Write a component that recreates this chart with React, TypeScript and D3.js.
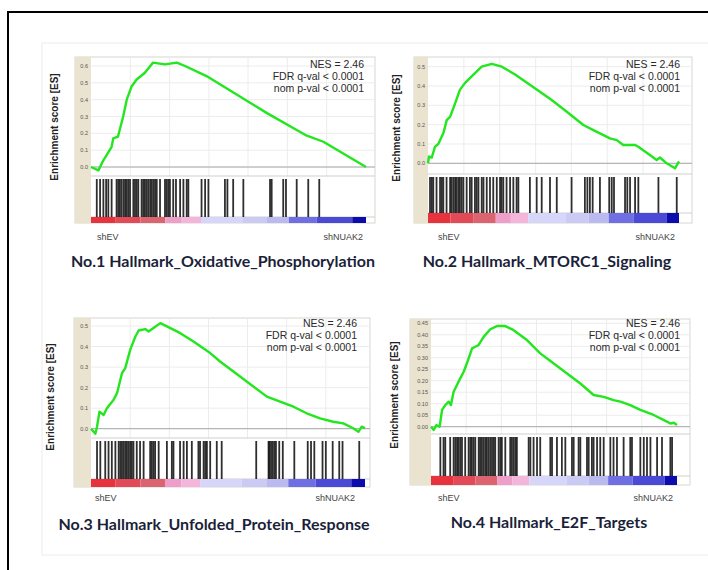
import React from 'react'
import * as d3 from 'd3'

// shared bits
const rankGrid = [14.3, 28.6, 42.9, 57.1, 71.4, 85.7]
const barStops = [0, 9, 18, 27, 33, 40, 55, 64, 72, 82, 95, 100]
const barColors = ['#e8333f', '#e24a57', '#dc6470', '#ee9fc9', '#f3b6da', '#d6d6fa', '#cacaf5', '#babaf1', '#6f6fe3', '#4a4ad6', '#0c0cae']
const statLines = ['NES = 2.46', 'FDR q-val < 0.0001', 'nom p-val < 0.0001']

// No.1 Oxidative phosphorylation
const p1Title = 'No.1 Hallmark_Oxidative_Phosphorylation'
const p1Ticks = [0, 0.1, 0.2, 0.3, 0.4, 0.5, 0.6]
const p1Rank = [0, 2.7, 4.5, 7.5, 8.1, 9.8, 11.7, 13, 14.8, 16.6, 19.6, 22.5, 26.9, 31.2, 34.2, 42, 54, 64, 78, 84.5, 100]
const p1Es = [0, -0.02, 0.04, 0.12, 0.17, 0.18, 0.30, 0.40, 0.48, 0.52, 0.56, 0.62, 0.61, 0.62, 0.60, 0.54, 0.42, 0.32, 0.19, 0.15, 0]
const p1Hits = [2.1, 3.3, 4.5, 5.5, 6.3, 7.5, 9.3, 9.9, 10.5, 11.1, 11.8, 12.4, 13.0, 13.6, 14.2, 15.4, 16.0, 16.6, 17.2, 18.4, 19.0, 19.6, 20.2, 20.8, 21.5, 22.1, 22.7, 23.3, 23.9, 25.1, 26.9, 27.5, 28.1, 28.7, 29.9, 30.9, 32.4, 33.6, 34.8, 35.4, 40.2, 41.5, 42.7, 48.7, 49.6, 51.7, 55.4, 65.1, 65.7, 69.9, 70.9, 74.8, 79.0, 83.0]

// No.2 MTORC1 signaling
const p2Title = 'No.2 Hallmark_MTORC1_Signaling'
const p2Ticks = [0, 0.1, 0.2, 0.3, 0.4, 0.5]
const p2Rank = [0, 0.4, 1.5, 2.8, 4.1, 6.1, 7.5, 8.8, 10.8, 12.7, 14.7, 17.4, 21.4, 25.4, 29.4, 34.7, 41.3, 49, 55.3, 61.9, 65.9, 72.5, 75.2, 77.8, 82.5, 83.8, 88.4, 91.1, 92.4, 95.1, 98.4, 100]
const p2Es = [0, 0.035, 0.03, 0.086, 0.10, 0.155, 0.225, 0.24, 0.31, 0.38, 0.415, 0.45, 0.50, 0.515, 0.50, 0.46, 0.40, 0.33, 0.267, 0.198, 0.172, 0.129, 0.12, 0.095, 0.095, 0.086, 0.043, 0.017, 0.03, 0.0, -0.026, 0.01]
const p2Hits = [0.8, 1.5, 2.1, 3.4, 4.8, 5.5, 6.1, 7.4, 8.8, 9.4, 10.1, 10.8, 11.4, 12.1, 12.7, 13.4, 14.1, 15.4, 16.7, 17.4, 18.7, 19.4, 20.1, 21.4, 22.1, 23.4, 24.7, 26.0, 27.4, 28.7, 29.3, 30.0, 31.3, 32.7, 34.0, 35.3, 36.0, 40.6, 43.3, 45.3, 48.6, 51.3, 57.2, 62.5, 63.5, 64.5, 65.6, 68.5, 72.2, 73.2, 74.1, 78.5, 79.4, 80.5, 82.5, 83.8, 91.8, 99.1]

// No.3 Unfolded protein response
const p3Title = 'No.3 Hallmark_Unfolded_Protein_Response'
const p3Ticks = [0, 0.1, 0.2, 0.3, 0.4, 0.5]
const p3Rank = [0, 1.6, 2.2, 3.1, 4.6, 5.8, 8.2, 9.5, 11.3, 12.5, 14.3, 16.2, 17.4, 19.8, 21.0, 22.8, 25.3, 27.7, 32.6, 37.4, 43.5, 47.1, 54.4, 64.2, 69.0, 73.9, 78.7, 83.6, 88.4, 92.1, 95.7, 97.6, 98.8, 100]
const p3Es = [0, -0.025, 0.01, 0.083, 0.067, 0.1, 0.14, 0.173, 0.27, 0.295, 0.384, 0.449, 0.478, 0.485, 0.473, 0.49, 0.514, 0.498, 0.465, 0.424, 0.368, 0.327, 0.254, 0.156, 0.132, 0.107, 0.075, 0.05, 0.034, 0.026, 0.002, -0.015, 0.01, 0.002]
const p3Hits = [2.2, 3.4, 5.2, 6.4, 7.6, 8.9, 10.1, 10.7, 11.3, 11.9, 12.5, 13.1, 13.7, 14.3, 14.9, 15.5, 16.7, 17.9, 19.2, 21.6, 22.2, 22.8, 23.4, 24.7, 27.7, 29.5, 30.1, 32.5, 33.8, 35.0, 36.8, 39.2, 39.8, 41.1, 41.7, 42.3, 43.5, 45.9, 47.7, 60.3, 64.8, 65.1, 65.7, 66.3, 66.9, 67.5, 68.7, 70.0, 74.2, 79.1, 80.3, 81.5, 84.5, 85.7, 88.2, 90.6, 91.8, 97.9]

// No.4 E2F targets
const p4Title = 'No.4 Hallmark_E2F_Targets'
const p4Ticks = [0, 0.05, 0.1, 0.15, 0.2, 0.25, 0.3, 0.35, 0.4, 0.45]
const p4Rank = [0, 1.1, 2.2, 3.5, 4.5, 5.8, 7.2, 8.1, 9.2, 11.2, 13.3, 14.6, 16.7, 18.0, 19.3, 21.4, 24.1, 26.8, 30.2, 33.6, 39.0, 44.4, 48, 60.7, 66.1, 70.2, 74.2, 77.0, 81.0, 85.1, 90.5, 95.9, 97.3, 98.7, 100]
const p4Es = [0, -0.014, 0.007, 0.0, 0.073, 0.094, 0.109, 0.094, 0.152, 0.196, 0.239, 0.276, 0.341, 0.348, 0.355, 0.391, 0.424, 0.438, 0.438, 0.42, 0.377, 0.319, 0.29, 0.188, 0.138, 0.13, 0.116, 0.109, 0.094, 0.073, 0.051, 0.022, 0.014, 0.017, 0.007]
const p4Hits = [3.8, 5.1, 5.8, 7.8, 9.2, 9.9, 10.6, 11.2, 11.9, 12.6, 13.9, 15.3, 16.0, 16.6, 17.3, 18.0, 19.4, 20.0, 20.7, 21.4, 22.1, 22.7, 23.4, 24.1, 24.8, 25.5, 26.1, 27.5, 28.2, 28.8, 30.2, 32.2, 32.9, 33.6, 34.3, 34.9, 39.7, 40.4, 41.7, 43.1, 44.4, 48.5, 49.2, 51.2, 53.2, 54.6, 57.3, 58.0, 60.0, 60.7, 63.4, 64.1, 65.4, 66.1, 67.5, 68.8, 70.2, 72.9, 74.2, 75.6, 78.3, 81.0, 81.7, 85.1, 86.5, 87.8, 89.2, 91.9, 93.9, 97.3, 98.0]

const layouts = [
  { beigeLeft: 75, plotLeft: 91, dataRight: 366, frameRight: 375, frameTop: 57, esBottom: 176, hitsBottom: 217, barBottom: 223, y0: 167, yTop: 66, labelX: 58, labelY: 127, titleX: 223, titleY: 267, shY: 240, shEvX: 97, shNuakX: 363, statX: 364, statY: 68 },
  { beigeLeft: 414, plotLeft: 428, dataRight: 679, frameRight: 692, frameTop: 57, esBottom: 174, hitsBottom: 213, barBottom: 223, y0: 163.3, yTop: 66.7, labelX: 400, labelY: 128, titleX: 547, titleY: 267, shY: 240, shEvX: 438, shNuakX: 675, statX: 680, statY: 68 },
  { beigeLeft: 74, plotLeft: 91, dataRight: 365, frameRight: 370, frameTop: 318, esBottom: 438, hitsBottom: 479, barBottom: 487, y0: 428.7, yTop: 326, labelX: 54, labelY: 397, titleX: 214, titleY: 530, shY: 501, shEvX: 95, shNuakX: 355, statX: 357, statY: 327 },
  { beigeLeft: 410, plotLeft: 431, dataRight: 677, frameRight: 690, frameTop: 319, esBottom: 434, hitsBottom: 476, barBottom: 485, y0: 426.7, yTop: 323.3, labelX: 398, labelY: 395, titleX: 549, titleY: 528, shY: 501, shEvX: 438, shNuakX: 673, statX: 680, statY: 327 },
]

const panels = [
  { title: p1Title, ticks: p1Ticks, rank: p1Rank, es: p1Es, hits: p1Hits, fmt: '.1f' },
  { title: p2Title, ticks: p2Ticks, rank: p2Rank, es: p2Es, hits: p2Hits, fmt: '.1f' },
  { title: p3Title, ticks: p3Ticks, rank: p3Rank, es: p3Es, hits: p3Hits, fmt: '.1f' },
  { title: p4Title, ticks: p4Ticks, rank: p4Rank, es: p4Es, hits: p4Hits, fmt: '.2f' },
]

const sans = 'Liberation Sans, Arial, sans-serif'

function GseaPanel({ p, L }: { p: any; L: any }) {
  const x = d3.scaleLinear().domain([0, 100]).range([L.plotLeft, L.dataRight])
  const y = d3.scaleLinear().domain([0, p.ticks[p.ticks.length - 1]]).range([L.y0, L.yTop])
  const line = d3.line<number>()
    .x((d, i) => x(p.rank[i]))
    .y(d => y(d))
  const fmt = d3.format(p.fmt)
  const barTop = L.hitsBottom

  return (
    <g>
      {/* frame background */}
      <rect x={L.beigeLeft} y={L.frameTop} width={L.frameRight - L.beigeLeft} height={L.barBottom - L.frameTop} fill="#fff" stroke="#d6d6d0" />
      <rect x={L.beigeLeft} y={L.frameTop} width={L.plotLeft - L.beigeLeft} height={L.barBottom - L.frameTop} fill="#e9e3d0" />

      {/* grid */}
      {rankGrid.map(g => (
        <line key={'gx' + g} x1={x(g)} x2={x(g)} y1={L.frameTop} y2={L.esBottom} stroke="#ececec" />
      ))}
      {p.ticks.map((t: number) => (
        <line key={'gy' + t} x1={L.plotLeft} x2={L.frameRight} y1={y(t)} y2={y(t)} stroke="#ececec" />
      ))}
      <line x1={L.plotLeft} x2={L.frameRight} y1={y(0)} y2={y(0)} stroke="#a8a8a8" />
      <line x1={L.plotLeft} x2={L.frameRight} y1={L.esBottom} y2={L.esBottom} stroke="#cfcfcf" />
      <line x1={L.plotLeft} x2={L.frameRight} y1={L.hitsBottom} y2={L.hitsBottom} stroke="#cfcfcf" />

      {/* tick labels */}
      {p.ticks.map((t: number) => (
        <text key={'tl' + t} x={L.plotLeft - 3} y={y(t) + 2} fontSize={5.5} fill="#555" textAnchor="end" fontFamily={sans}>{fmt(t)}</text>
      ))}

      {/* hits */}
      {p.hits.map((h: number, i: number) => (
        <line key={'h' + i} x1={x(h)} x2={x(h)} y1={L.esBottom + 3} y2={L.hitsBottom} stroke="#0a0a0a" strokeOpacity={0.85} strokeWidth={1.8} />
      ))}

      {/* ranked list colour bar */}
      {barColors.map((c, i) => (
        <rect key={'b' + i} x={x(barStops[i])} y={barTop} width={x(barStops[i + 1]) - x(barStops[i])} height={L.barBottom - barTop} fill={c} />
      ))}

      {/* running enrichment score */}
      <path d={line(p.es) || ''} fill="none" stroke="#22e61e" strokeWidth={2.4} strokeLinejoin="round" />

      {/* stats */}
      {statLines.map((s, i) => (
        <text key={'s' + i} x={L.statX} y={L.statY + i * 12} fontSize={10.5} fill="#2a2a2a" textAnchor="end" fontFamily={sans}>{s}</text>
      ))}

      <text transform={`translate(${L.labelX},${L.labelY}) rotate(-90)`} fontSize={10} fontWeight="bold" fill="#222" textAnchor="middle" fontFamily={sans}>Enrichment score [ES]</text>

      <text x={L.shEvX} y={L.shY} fontSize={9} fill="#444" fontFamily={sans}>shEV</text>
      <text x={L.shNuakX} y={L.shY} fontSize={9} fill="#444" textAnchor="end" fontFamily={sans}>shNUAK2</text>

      <text x={L.titleX} y={L.titleY} fontSize={16} fontWeight="bold" fill="#1c1f3a" textAnchor="middle" fontFamily="Lato, sans-serif">{p.title}</text>
    </g>
  )
}

export default function App() {
  return (
    <svg width={708} height={570} style={{ position: 'absolute', left: 0, top: 0, background: '#fff' }}>
      <rect x={8} y={12} width={710} height={570} fill="#fff" stroke="#000" strokeWidth={2} />
      <rect x={42} y={43} width={670} height={512} fill="#fff" stroke="#ececec" />
      {panels.map((p, i) => (
        <GseaPanel key={i} p={p} L={layouts[i]} />
      ))}
    </svg>
  )
}
